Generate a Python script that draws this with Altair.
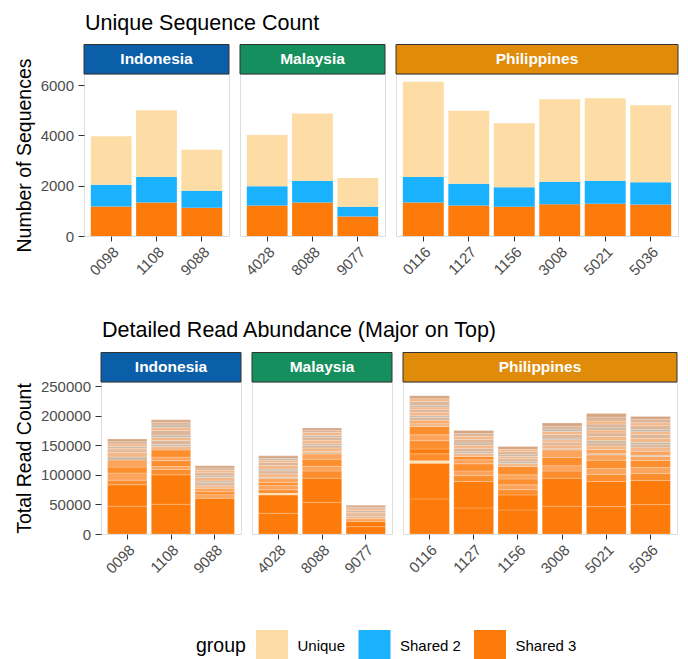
import altair as alt
import pandas as pd

FONT = "Liberation Sans"

countries = ["Indonesia", "Malaysia", "Philippines"]
strip_colors = ["#0B5EA8", "#168F5E", "#E08C0A"]
country_samples = [
    ["0098", "1108", "9088"],
    ["4028", "8088", "9077"],
    ["0116", "1127", "1156", "3008", "5021", "5036"],
]

groups = ["Unique", "Shared 2", "Shared 3"]
group_colors = ["#FDDCA5", "#1AB1FF", "#FC7B0A"]

# Unique sequence counts (stacked), order of samples as in country_samples
samples_flat = ["0098", "1108", "9088", "4028", "8088", "9077",
                "0116", "1127", "1156", "3008", "5021", "5036"]
shared3 = [1175, 1335, 1120, 1215, 1335, 775, 1335, 1215, 1160, 1265, 1280, 1255]
shared2 = [865, 1010, 680, 760, 865, 385, 1010, 865, 775, 895, 920, 880]
unique = [1930, 2655, 1625, 2040, 2665, 1145, 3790, 2895, 2545, 3280, 3280, 3065]

# Detailed read abundance: segments per sample, bottom to top
read_segments = {
    "0098": [47000, 36000, 8000, 12000, 10000, 12000, 5000, 8000, 4000, 3000, 3000, 4000, 4000, 4300],
    "1108": [50300, 49700, 9000, 5000, 10000, 6000, 12000, 6000, 3000, 7000, 5000, 4000, 8000, 5000, 4000, 5000, 4000],
    "9088": [60400, 6000, 5000, 6000, 4000, 5000, 3000, 6000, 3000, 5000, 4000, 4000, 3700],
    "4028": [35000, 31000, 2800, 6000, 7000, 5000, 7500, 1500, 6000, 5000, 3000, 6000, 5000, 4000, 3000, 4200],
    "8088": [53600, 40700, 12000, 8000, 12000, 9000, 2000, 2100, 6000, 4000, 3000, 6000, 5000, 3000, 5000, 4000, 3500],
    "9077": [12400, 8500, 5000, 4000, 4000, 3000, 2500, 3000, 3000, 3100],
    "0116": [59300, 60400, 3900, 12000, 8000, 14000, 10000, 14100, 6000, 4000, 5000, 3000, 6000, 5000, 4000, 3000, 6000, 5000, 4900],
    "1127": [44000, 44600, 10000, 8000, 12000, 7000, 5300, 5000, 3000, 6000, 5000, 4000, 6000, 5000, 5000, 5000],
    "1156": [40600, 25400, 9000, 8000, 10000, 7000, 14000, 5000, 3000, 5000, 4000, 3000, 5000, 4000, 4800],
    "3008": [47000, 47300, 12000, 9000, 14000, 12900, 2000, 6000, 5000, 4000, 3000, 6000, 5000, 4000, 5000, 5200],
    "5021": [46300, 42300, 12000, 10000, 14000, 9100, 2000, 7000, 6000, 5000, 4000, 7000, 6000, 5000, 4000, 6000, 5000, 7000, 6000],
    "5036": [50000, 40300, 12000, 10000, 12000, 6600, 2000, 7000, 6000, 5000, 4000, 7000, 6000, 5000, 4000, 6000, 5000, 6000, 4700],
}
read_shades = {
    "0098": "AABCBCFDEDFDEH",
    "1108": "AABCBCBDFEDFEDFEH",
    "9088": "ACBCDEFDFEDEH",
    "4028": "AAGBCBCFDEFDEDFH",
    "8088": "AABCBCFCDEFDEFDEH",
    "9077": "AACDEDFDEH",
    "0116": "AAGBABCBDCEFDEDFEDH",
    "1127": "AABCBCBDFEDFEDEH",
    "1156": "AABCBCBDFEDFEDH",
    "3008": "AABCBCFDEDFEDFEH",
    "5021": "AABCBCFCDEFDEDFEDEH",
    "5036": "AABCBCFCDEFDEDFEDEH",
}
shade_hex = {"A": "#FC7B0A", "B": "#FD8E2E", "C": "#FCA45C", "D": "#F4B788",
             "E": "#DDB598", "F": "#C7B8A6", "G": "#FDE3B4", "H": "#D6A682"}

# ---- data frames ----
rows = []
for i, s in enumerate(samples_flat):
    rows.append({"sample": s, "group": "Shared 3", "count": shared3[i], "ord": 0})
    rows.append({"sample": s, "group": "Shared 2", "count": shared2[i], "ord": 1})
    rows.append({"sample": s, "group": "Unique", "count": unique[i], "ord": 2})
count_df = pd.DataFrame(rows)

seg_rows = []
for s in samples_flat:
    for j, (v, c) in enumerate(zip(read_segments[s], read_shades[s])):
        seg_rows.append({"sample": s, "reads": v, "seg": j, "shade": shade_hex[c]})
read_df = pd.DataFrame(seg_rows)

top_widths = [145, 145, 282]
bot_widths = [140, 140, 274]
TOP_H = 162
BOT_H = 152
STRIP_H = 29.5

legend_def = alt.Legend(
    title="group", orient="none", legendX=112, legendY=556, direction="horizontal",
    titleOrient="left", titleFontSize=19.5, titleFont=FONT, titleFontWeight="normal",
    titleColor="#000000", titlePadding=10, titleBaseline="middle",
    labelFontSize=15, labelFont=FONT, labelColor="#000000", labelOffset=9.5,
    symbolType="square", symbolSize=1024, symbolStrokeWidth=0, symbolOpacity=1,
    columnPadding=12.5, padding=0,
)


def x_axis():
    return alt.Axis(title=None, labelAngle=-45, labelAlign="right", labelBaseline="top",
                    labelFontSize=15, labelFont=FONT, labelColor="#4D4D4D",
                    tickSize=5, tickColor="#333333", labelPadding=3, domain=False, grid=False)


def y_axis(title, values):
    return alt.Axis(title=title, values=values, format="d", labelFontSize=15, labelFont=FONT,
                    labelColor="#4D4D4D", tickSize=6, tickColor="#333333", labelPadding=4.5,
                    titleFontSize=19.5, titleFont=FONT, titleFontWeight="normal", titleColor="#000000",
                    titlePadding=6, domain=False, grid=False)


def strip_layers(country, color, width):
    sdf = pd.DataFrame({"c": [country]})
    rect = alt.Chart(sdf).mark_rect(fill=color, stroke="#333333", strokeWidth=1).encode(
        x=alt.value(0), x2=alt.value(width), y=alt.value(-STRIP_H), y2=alt.value(0))
    txt = alt.Chart(sdf).mark_text(color="white", fontWeight="bold", fontSize=15.5, font=FONT,
                                   baseline="middle", align="center").encode(
        text="c:N", x=alt.value(width / 2), y=alt.value(-STRIP_H / 2))
    return [rect, txt]


def title_layer(text, ypos):
    tdf = pd.DataFrame({"t": [text]})
    return alt.Chart(tdf).mark_text(fontSize=21.5, font=FONT, color="#000000", align="left",
                                    baseline="top").encode(
        text="t:N", x=alt.value(1), y=alt.value(ypos))


top_panels = []
for k, country in enumerate(countries):
    smp = country_samples[k]
    d = count_df[count_df["sample"].isin(smp)]
    bars = alt.Chart(d).mark_bar().encode(
        x=alt.X("sample:N", sort=smp, scale=alt.Scale(paddingInner=0.1, paddingOuter=0.15), axis=x_axis()),
        y=alt.Y("count:Q", stack="zero", scale=alt.Scale(domain=[0, 6440], nice=False),
                axis=y_axis("Number of Sequences", [0, 2000, 4000, 6000]) if k == 0 else None),
        color=alt.Color("group:N", scale=alt.Scale(domain=groups, range=group_colors), legend=legend_def),
        order=alt.Order("ord:Q"),
    )
    layers = [bars] + strip_layers(country, strip_colors[k], top_widths[k])
    if k == 0:
        layers.append(title_layer("Unique Sequence Count", -61.5))
    top_panels.append(alt.layer(*layers).properties(width=top_widths[k], height=TOP_H))

# small invisible spacer so the lower row's panels start further right (wider y labels)
spacer = alt.Chart(pd.DataFrame({"a": [0]})).mark_point(opacity=0).encode(
    x=alt.value(0), y=alt.value(0)
).properties(width=5.4, height=BOT_H, view=alt.ViewBackground(stroke="transparent"))

bot_panels = [spacer]
for k, country in enumerate(countries):
    smp = country_samples[k]
    d = read_df[read_df["sample"].isin(smp)]
    bars = alt.Chart(d).mark_bar(stroke="white", strokeWidth=0.35, strokeOpacity=0.6).encode(
        x=alt.X("sample:N", sort=smp, scale=alt.Scale(paddingInner=0.1, paddingOuter=0.15), axis=x_axis()),
        y=alt.Y("reads:Q", stack="zero", scale=alt.Scale(domain=[0, 256800], nice=False),
                axis=y_axis("Total Read Count", [0, 50000, 100000, 150000, 200000, 250000]) if k == 0 else None),
        color=alt.Color("shade:N", scale=None),
        order=alt.Order("seg:Q"),
    )
    layers = [bars] + strip_layers(country, strip_colors[k], bot_widths[k])
    if k == 0:
        layers.append(title_layer("Detailed Read Abundance (Major on Top)", -62))
    bot_panels.append(alt.layer(*layers).properties(width=bot_widths[k], height=BOT_H))

top_row = alt.hconcat(*top_panels, spacing=11, bounds="flush").resolve_scale(x="independent")
bot_row = alt.hconcat(*bot_panels, spacing=11, bounds="flush").resolve_scale(x="independent")

chart = alt.concat(top_row, bot_row, columns=1, spacing=40, align="none").properties(
    padding={"left": 5, "top": 4, "right": 0, "bottom": 0}
).configure_view(stroke="#7F7F7F", strokeWidth=1).configure(background="white")

chart.save("out.html", embed_options={"renderer": "svg", "actions": False})
